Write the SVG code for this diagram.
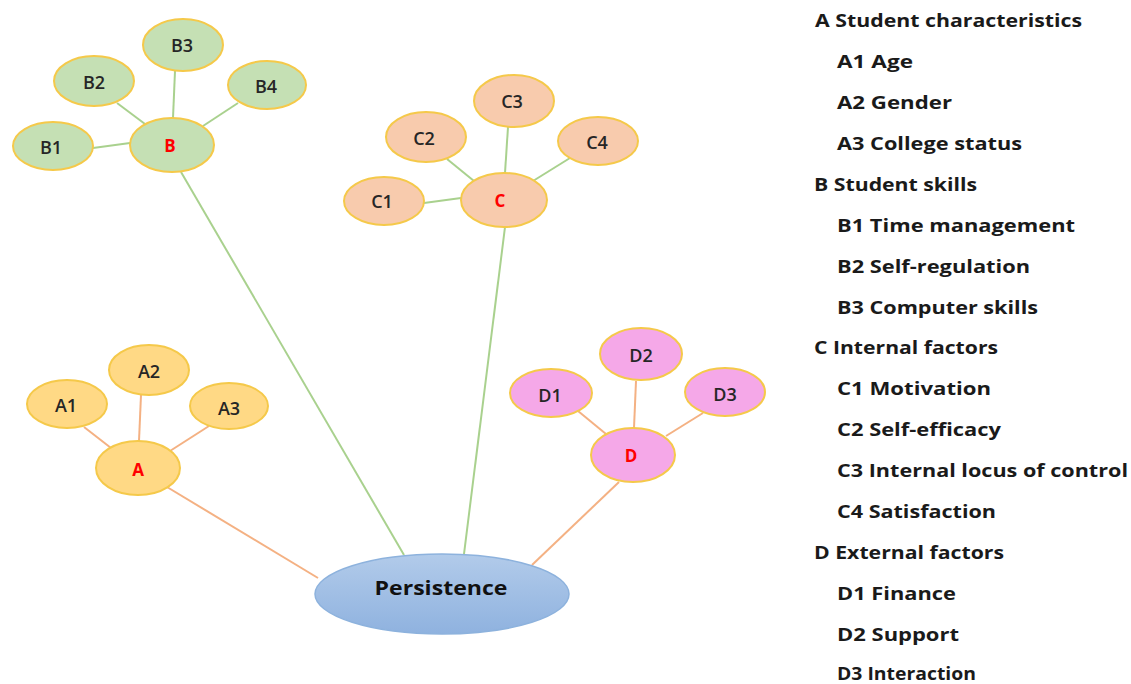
<svg xmlns="http://www.w3.org/2000/svg" width="1131" height="684" viewBox="0 0 1131 684">
<style>
.lbl{font-family:"Open Sans","Liberation Sans",sans-serif;font-size:18px;fill:#262626;text-anchor:middle;dominant-baseline:central;font-weight:600}
.main{font-family:"Open Sans","Liberation Sans",sans-serif;font-size:17px;fill:#ff0000;text-anchor:middle;dominant-baseline:central;font-weight:700}
.leg{font-family:"Open Sans","Liberation Sans",sans-serif;font-size:17px;fill:#1a1a1a;font-weight:700;dominant-baseline:central}
.b{fill:#c5e0b4;stroke:#f5c94a;stroke-width:2}
.c{fill:#f8cbad;stroke:#f5c94a;stroke-width:2}
.a{fill:#ffd985;stroke:#f5c94a;stroke-width:2}
.d{fill:#f5a8e8;stroke:#f5c94a;stroke-width:2}
.g{stroke:#a9d18e;stroke-width:2;fill:none}
.o{stroke:#f4b183;stroke-width:2;fill:none}
</style>
<defs>
<linearGradient id="pg" x1="0" y1="0" x2="0" y2="1">
<stop offset="0" stop-color="#b2cbea"/>
<stop offset="1" stop-color="#8fb2df"/>
</linearGradient>
</defs>
<rect width="1131" height="684" fill="#ffffff"/>
<g id="connectors">
<line class="g" x1="93" y1="148" x2="130" y2="143"/>
<line class="g" x1="117" y1="103" x2="145" y2="124"/>
<line class="g" x1="175" y1="71" x2="173" y2="118"/>
<line class="g" x1="238" y1="103" x2="203" y2="126"/>
<line class="g" x1="181" y1="172" x2="404" y2="555"/>
<line class="g" x1="424" y1="203" x2="461" y2="198"/>
<line class="g" x1="447" y1="159" x2="474" y2="181"/>
<line class="g" x1="508" y1="127" x2="505" y2="173"/>
<line class="g" x1="570" y1="158" x2="533" y2="181"/>
<line class="g" x1="505" y1="227" x2="464" y2="554"/>
<line class="o" x1="84" y1="427" x2="111" y2="448"/>
<line class="o" x1="141" y1="395" x2="139" y2="441"/>
<line class="o" x1="209" y1="426" x2="170" y2="451"/>
<line class="o" x1="167" y1="487" x2="318" y2="578"/>
<line class="o" x1="578" y1="411" x2="606" y2="434"/>
<line class="o" x1="636" y1="381" x2="634" y2="428"/>
<line class="o" x1="703" y1="413" x2="666" y2="436"/>
<line class="o" x1="619" y1="482" x2="532" y2="565"/>
</g>
<g id="node-B"><ellipse class="b" cx="172" cy="145" rx="42" ry="27"/><text class="main" x="170" y="145">B</text></g>
<g id="node-B1"><ellipse class="b" cx="53" cy="146" rx="40" ry="24"/><text class="lbl" x="51" y="147">B1</text></g>
<g id="node-B2"><ellipse class="b" cx="94" cy="81" rx="40" ry="25"/><text class="lbl" x="94" y="82">B2</text></g>
<g id="node-B3"><ellipse class="b" cx="183" cy="45" rx="40" ry="26"/><text class="lbl" x="182" y="45">B3</text></g>
<g id="node-B4"><ellipse class="b" cx="267" cy="85" rx="39" ry="24"/><text class="lbl" x="266" y="86">B4</text></g>
<g id="node-C"><ellipse class="c" cx="504" cy="200" rx="43" ry="27"/><text class="main" x="500" y="200">C</text></g>
<g id="node-C1"><ellipse class="c" cx="384" cy="201" rx="40" ry="24"/><text class="lbl" x="382" y="201">C1</text></g>
<g id="node-C2"><ellipse class="c" cx="426" cy="137" rx="40" ry="25"/><text class="lbl" x="424" y="138">C2</text></g>
<g id="node-C3"><ellipse class="c" cx="514" cy="101" rx="40" ry="26"/><text class="lbl" x="512" y="101">C3</text></g>
<g id="node-C4"><ellipse class="c" cx="598" cy="141" rx="40" ry="24"/><text class="lbl" x="597" y="142">C4</text></g>
<g id="node-A"><ellipse class="a" cx="138" cy="468" rx="42" ry="27"/><text class="main" x="138" y="469">A</text></g>
<g id="node-A1"><ellipse class="a" cx="67" cy="404" rx="40" ry="24"/><text class="lbl" x="66" y="405">A1</text></g>
<g id="node-A2"><ellipse class="a" cx="149" cy="370" rx="40" ry="25"/><text class="lbl" x="149" y="371">A2</text></g>
<g id="node-A3"><ellipse class="a" cx="229" cy="406" rx="39" ry="23"/><text class="lbl" x="229" y="408">A3</text></g>
<g id="node-D"><ellipse class="d" cx="633" cy="455" rx="42" ry="27"/><text class="main" x="631" y="455">D</text></g>
<g id="node-D1"><ellipse class="d" cx="551" cy="393" rx="41" ry="24"/><text class="lbl" x="550" y="395">D1</text></g>
<g id="node-D2"><ellipse class="d" cx="641" cy="354" rx="41" ry="26"/><text class="lbl" x="641" y="355">D2</text></g>
<g id="node-D3"><ellipse class="d" cx="725" cy="392" rx="40" ry="24"/><text class="lbl" x="725" y="394">D3</text></g>
<g id="node-Persistence"><ellipse cx="442" cy="594" rx="127" ry="40" fill="url(#pg)" stroke="#8db2dd" stroke-width="1.5"/><text x="441" y="588" font-family="Open Sans, Liberation Sans, sans-serif" font-size="19px" font-weight="700" fill="#111" text-anchor="middle" dominant-baseline="central" textLength="133" lengthAdjust="spacingAndGlyphs">Persistence</text></g>
<g id="legend">
<text class="leg" x="815" y="20" textLength="267" lengthAdjust="spacingAndGlyphs">A Student characteristics</text>
<text class="leg" x="837" y="61" textLength="76" lengthAdjust="spacingAndGlyphs">A1 Age</text>
<text class="leg" x="837" y="102" textLength="115" lengthAdjust="spacingAndGlyphs">A2 Gender</text>
<text class="leg" x="837" y="143" textLength="185" lengthAdjust="spacingAndGlyphs">A3 College status</text>
<text class="leg" x="814" y="184" textLength="163" lengthAdjust="spacingAndGlyphs">B Student skills</text>
<text class="leg" x="837" y="225" textLength="238" lengthAdjust="spacingAndGlyphs">B1 Time management</text>
<text class="leg" x="837" y="266" textLength="193" lengthAdjust="spacingAndGlyphs">B2 Self-regulation</text>
<text class="leg" x="837" y="307" textLength="201" lengthAdjust="spacingAndGlyphs">B3 Computer skills</text>
<text class="leg" x="814" y="347" textLength="184" lengthAdjust="spacingAndGlyphs">C Internal factors</text>
<text class="leg" x="837" y="388" textLength="154" lengthAdjust="spacingAndGlyphs">C1 Motivation</text>
<text class="leg" x="837" y="429" textLength="164" lengthAdjust="spacingAndGlyphs">C2 Self-efficacy</text>
<text class="leg" x="837" y="470" textLength="291" lengthAdjust="spacingAndGlyphs">C3 Internal locus of control</text>
<text class="leg" x="837" y="511" textLength="159" lengthAdjust="spacingAndGlyphs">C4 Satisfaction</text>
<text class="leg" x="814" y="552" textLength="190" lengthAdjust="spacingAndGlyphs">D External factors</text>
<text class="leg" x="837" y="593" textLength="119" lengthAdjust="spacingAndGlyphs">D1 Finance</text>
<text class="leg" x="837" y="634" textLength="122" lengthAdjust="spacingAndGlyphs">D2 Support</text>
<text class="leg" x="837" y="673" textLength="139" lengthAdjust="spacingAndGlyphs">D3 Interaction</text>
</g>
</svg>
